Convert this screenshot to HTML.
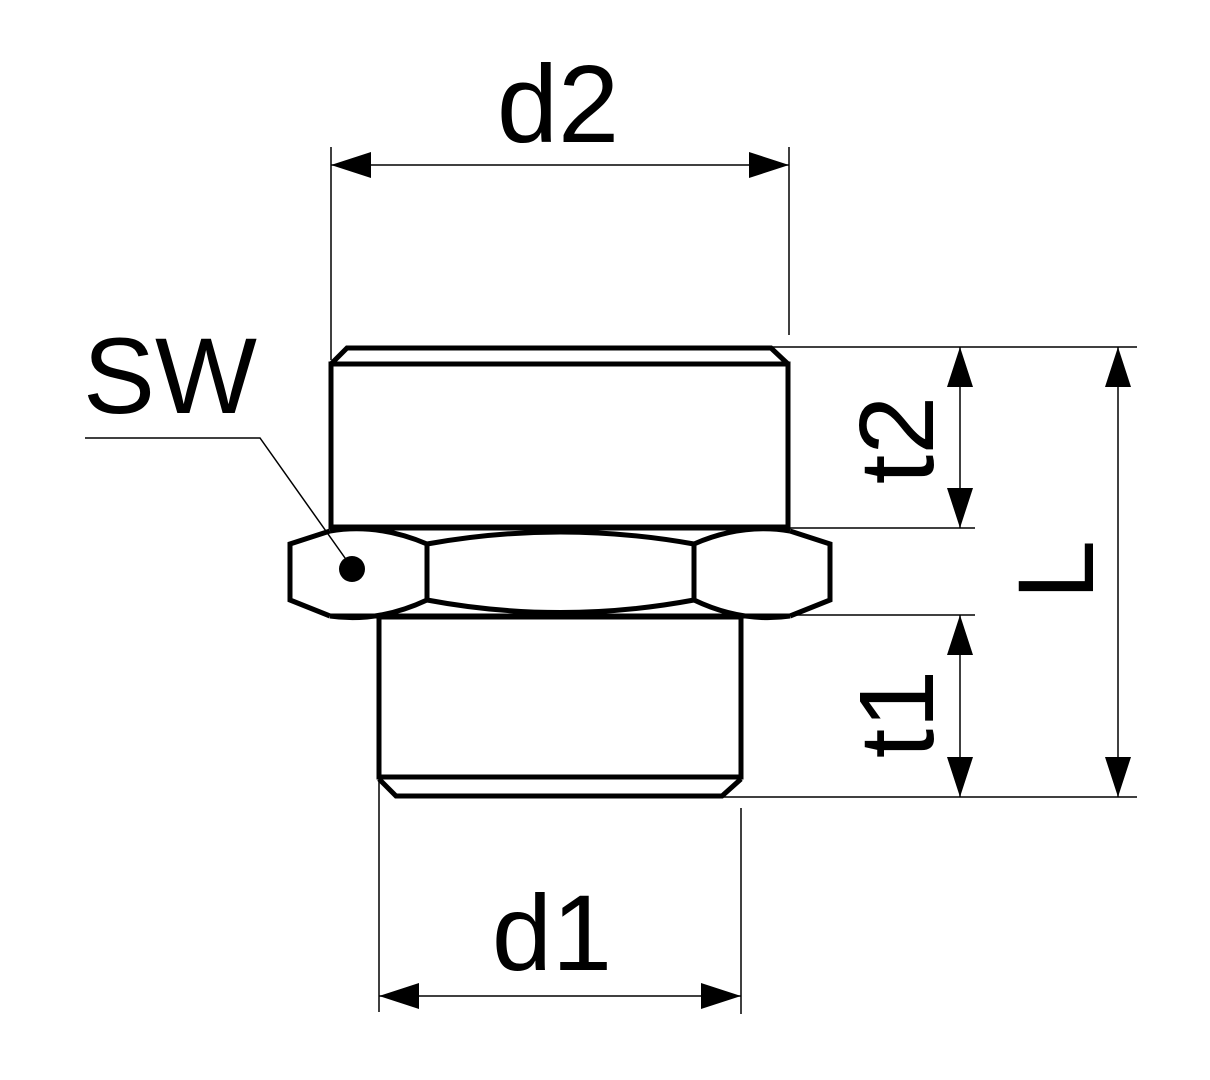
<!DOCTYPE html>
<html><head><meta charset="utf-8"><style>html,body{margin:0;padding:0;background:#fff}svg{display:block}</style></head>
<body>
<svg width="1210" height="1080" viewBox="0 0 1210 1080" xmlns="http://www.w3.org/2000/svg" font-family="Liberation Sans, sans-serif">
<g fill="none" stroke="#000" stroke-width="5" stroke-linejoin="miter">
<polyline points="331,364 347,348 771,348 788,364"/>
<rect x="331" y="364" width="457" height="163"/>
<line x1="331" y1="528" x2="790" y2="528"/>
<line x1="330" y1="616" x2="790" y2="616"/>
<polyline points="330,531 290,544 290,600 330,616"/>
<polyline points="790,531 830,544 830,600 790,616"/>
<path d="M330,531 Q378,523 427,544"/>
<path d="M330,616 Q378,623 427,600"/>
<path d="M427,544 Q560,520 694,544"/>
<path d="M427,600 Q560,625 694,600"/>
<path d="M694,544 Q742,523 790,531"/>
<path d="M694,600 Q742,623 790,616"/>
<line x1="427" y1="544" x2="427" y2="600"/>
<line x1="694" y1="544" x2="694" y2="600"/>
<rect x="379" y="617" width="362" height="160"/>
<polyline points="379,779 396,796 722,796 741,779"/>
</g>
<g stroke="#000" stroke-width="1.5" fill="none">
<line x1="331" y1="147" x2="331" y2="360"/>
<line x1="789" y1="147" x2="789" y2="335"/>
<line x1="331" y1="165" x2="789" y2="165"/>
<line x1="379" y1="780" x2="379" y2="1012"/>
<line x1="741" y1="808" x2="741" y2="1014"/>
<line x1="379" y1="996" x2="741" y2="996"/>
<line x1="771" y1="347" x2="1137" y2="347"/>
<line x1="790" y1="528" x2="975" y2="528"/>
<line x1="790" y1="615" x2="975" y2="615"/>
<line x1="722" y1="797" x2="1137" y2="797"/>
<line x1="960" y1="347" x2="960" y2="528"/>
<line x1="960" y1="615" x2="960" y2="797"/>
<line x1="1118" y1="347" x2="1118" y2="797"/>
<polyline points="85,438 260,438 350,565"/>
</g>
<g fill="#000">
<polygon points="331,165 371,152 371,178"/>
<polygon points="789,165 749,152 749,178"/>
<polygon points="379,996 419,983 419,1009"/>
<polygon points="741,996 701,983 701,1009"/>
<polygon points="960,347 947,387 973,387"/>
<polygon points="960,528 947,488 973,488"/>
<polygon points="960,615 947,655 973,655"/>
<polygon points="960,797 947,757 973,757"/>
<polygon points="1118,347 1105,387 1131,387"/>
<polygon points="1118,797 1105,757 1131,757"/>
<circle cx="352" cy="569" r="13"/>
<text x="558" y="142" font-size="110" text-anchor="middle">d2</text>
<text x="552" y="970" font-size="108" text-anchor="middle">d1</text>
<text x="170" y="413" font-size="108" text-anchor="middle">SW</text>
<text transform="translate(933,440) rotate(-90)" font-size="106" text-anchor="middle">t2</text>
<text transform="translate(933,714) rotate(-90)" font-size="106" text-anchor="middle">t1</text>
<text transform="translate(1093,570) rotate(-90)" font-size="108" text-anchor="middle">L</text>
</g>
</svg>
</body></html>
